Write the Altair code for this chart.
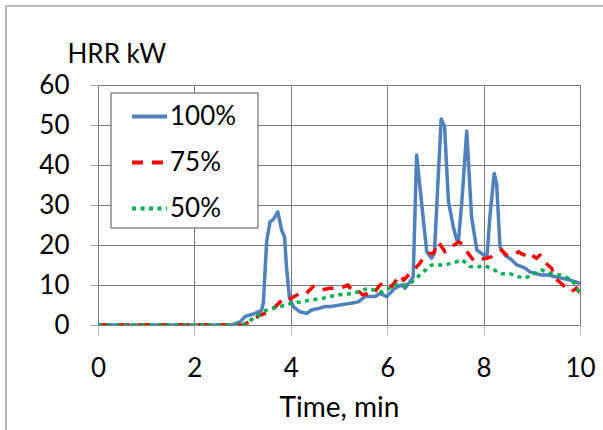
import altair as alt
import pandas as pd

# ---- data ----
series_names = ["100%", "75%", "50%"]
series_colors = ["#4f81bd", "#ff0000", "#00b050"]
series_dashes = [[1, 0], [11, 9], [4, 4.5]]

t_100 = [0, 2.75, 2.85, 2.95, 3.05, 3.22, 3.39, 3.43, 3.5, 3.57, 3.64, 3.73, 3.81, 3.87, 3.91, 3.97,
         4.05, 4.19, 4.33, 4.43, 4.6, 4.71, 4.81, 5.02, 5.23, 5.33, 5.4, 5.54, 5.75, 5.85, 5.99,
         6.16, 6.3, 6.37, 6.47, 6.54, 6.61, 6.71, 6.82, 6.92, 6.98, 7.05, 7.12, 7.19, 7.27, 7.37,
         7.44, 7.48, 7.55, 7.65, 7.75, 7.86, 8.0, 8.07, 8.13, 8.22, 8.27, 8.34, 8.44, 8.58, 8.69,
         8.79, 8.86, 8.96, 9.06, 9.2, 9.34, 9.48, 9.62, 9.79, 10.0]
v_100 = [0, 0, 0.3, 0.8, 2.1, 2.75, 3.6, 5.5, 21, 25.8, 26.4, 28.3, 23.7, 22, 14.6, 7,
         4.6, 3.3, 2.9, 3.75, 4.2, 4.6, 4.6, 5.0, 5.4, 5.6, 5.8, 7.1, 7.1, 7.9, 7.1,
         9.2, 10, 9.2, 10.8, 12.1, 42.5, 31, 18.3, 16.7, 18, 35, 51.5, 49.6, 31, 24.6,
         21.3, 21.3, 31, 48.5, 27, 18.75, 17.5, 17.1, 27, 37.9, 35.4, 19.6, 17.5, 16.3, 15,
         14.6, 14.2, 13.3, 12.9, 12.5, 12.5, 12.1, 11.7, 11.25, 10.4]

t_75 = [0, 3.0, 3.15, 3.36, 3.5, 3.65, 3.78, 3.88, 3.95, 4.05, 4.19, 4.3, 4.46, 4.56, 4.65, 4.81,
        5.02, 5.19, 5.26, 5.37, 5.5, 5.6, 5.7, 5.85, 5.99, 6.09, 6.27, 6.34, 6.5, 6.65, 6.82,
        6.96, 7.06, 7.2, 7.3, 7.48, 7.58, 7.68, 7.8, 7.95, 8.06, 8.17, 8.37, 8.47, 8.6, 8.72,
        8.83, 8.9, 9.1, 9.17, 9.24, 9.41, 9.48, 9.6, 9.72, 9.82, 9.93, 10.0]
v_75 = [0, 0, 0.8, 2.5, 3.0, 4.2, 5.8, 6.7, 6.2, 7.0, 7.9, 7.6, 9.6, 9.6, 8.8, 9.2,
        9.2, 10.0, 8.6, 8.75, 7.5, 7.9, 7.6, 10.0, 10.8, 9.6, 12.5, 11.2, 13.3, 15.0, 17.9,
        17.9, 20.8, 18.3, 19.2, 20.8, 20.0, 17.9, 16.0, 16.5, 16.7, 17.1, 18.75, 17.5, 17.2, 18.3,
        17.5, 18.3, 16.7, 17.5, 16.0, 14.2, 11.7, 10.5, 9.2, 8.3, 9.2, 7.9]

t_50 = [0, 3.0, 3.26, 3.53, 3.71, 4.02, 4.4, 4.67, 4.95, 5.3, 5.6, 5.88, 6.16, 6.44, 6.71, 6.92,
        7.16, 7.34, 7.55, 7.72, 7.86, 8.03, 8.2, 8.37, 8.55, 8.72, 8.86, 9.03, 9.2, 9.41, 9.58,
        9.75, 9.89, 10.0]
v_50 = [0, 0, 1.9, 4.0, 4.4, 5.4, 6.2, 6.7, 7.5, 7.9, 9.2, 8.2, 10.0, 10.0, 12.9, 15.0,
        15.0, 15.4, 16.3, 14.6, 14.5, 14.8, 13.9, 12.8, 12.8, 12.1, 11.7, 12.7, 13.75, 12.8, 12.5,
        11.7, 10.4, 7.5]

x_ticks = [0, 2, 4, 6, 8, 10]
y_ticks = [0, 10, 20, 30, 40, 50, 60]

FONT = "Lato"
FS = 26

def frame(name, t, v):
    return pd.DataFrame({"t": t, "v": v, "series": name})

color_scale = alt.Scale(domain=series_names, range=series_colors)
dash_scale = alt.Scale(domain=series_names, range=series_dashes)

x_enc = alt.X("t:Q", scale=alt.Scale(domain=[0, 10], nice=False),
              axis=alt.Axis(values=x_ticks, title="Time, min", titleY=91, titleFontSize=28,
                            titleBaseline="alphabetic", tickSize=10, labelPadding=20,
                            labelFlush=False, tickColor="#c0c0c0"))
y_enc = alt.Y("v:Q", scale=alt.Scale(domain=[0, 60], nice=False),
              axis=alt.Axis(values=y_ticks, title="HRR kW", titleAngle=0, titleAlign="left",
                            titleX=-31, titleY=-23, titleBaseline="alphabetic",
                            tickSize=8, labelPadding=21, labelFlush=False, tickColor="#a0a0a0"))

legend = alt.Legend(title=None, orient="none", legendX=32, legendY=12,
                    symbolType="stroke", symbolSize=1225, symbolStrokeWidth=4,
                    labelFontSize=FS, labelFont=FONT, labelOffset=1, rowPadding=13,
                    padding=0)

def line_layer(df):
    return alt.Chart(df).mark_line(strokeWidth=3.5, strokeJoin="round", clip=True).encode(
        x=x_enc, y=y_enc,
        color=alt.Color("series:N", scale=color_scale, legend=legend, sort=series_names),
        strokeDash=alt.StrokeDash("series:N", scale=dash_scale, legend=legend, sort=series_names),
    )

dummy = pd.DataFrame({"a": [0]})
legend_box = alt.Chart(dummy).mark_rect(fill="white", stroke="#505050", strokeWidth=1).encode(
    x=alt.value(13), x2=alt.value(160), y=alt.value(8), y2=alt.value(143))
frame_left = alt.Chart(dummy).mark_rule(color="#a0a0a0", strokeWidth=1.5).encode(
    x=alt.value(-92), y=alt.value(-79), y2=alt.value(345))
frame_top = alt.Chart(dummy).mark_rule(color="#a0a0a0", strokeWidth=1.5).encode(
    x=alt.value(-92), x2=alt.value(505), y=alt.value(-79))

chart = alt.layer(
    frame_left, frame_top, legend_box,
    line_layer(frame("100%", t_100, v_100)),
    line_layer(frame("75%", t_75, v_75)),
    line_layer(frame("50%", t_50, v_50)),
).properties(
    width=482, height=240,
    autosize=alt.AutoSizeParams(type="none"),
    padding={"left": 98, "top": 85, "right": 23, "bottom": 105},
).configure(font=FONT).configure_axis(
    domain=False, grid=True, gridColor="#7a7a7a", gridWidth=1,
    labelFont=FONT, labelFontSize=FS, labelColor="black",
    titleFont=FONT, titleFontSize=FS, titleFontWeight="normal", titleColor="black",
).configure_view(stroke=None)

chart.save("out.html", embed_options={"renderer": "svg", "actions": False})
